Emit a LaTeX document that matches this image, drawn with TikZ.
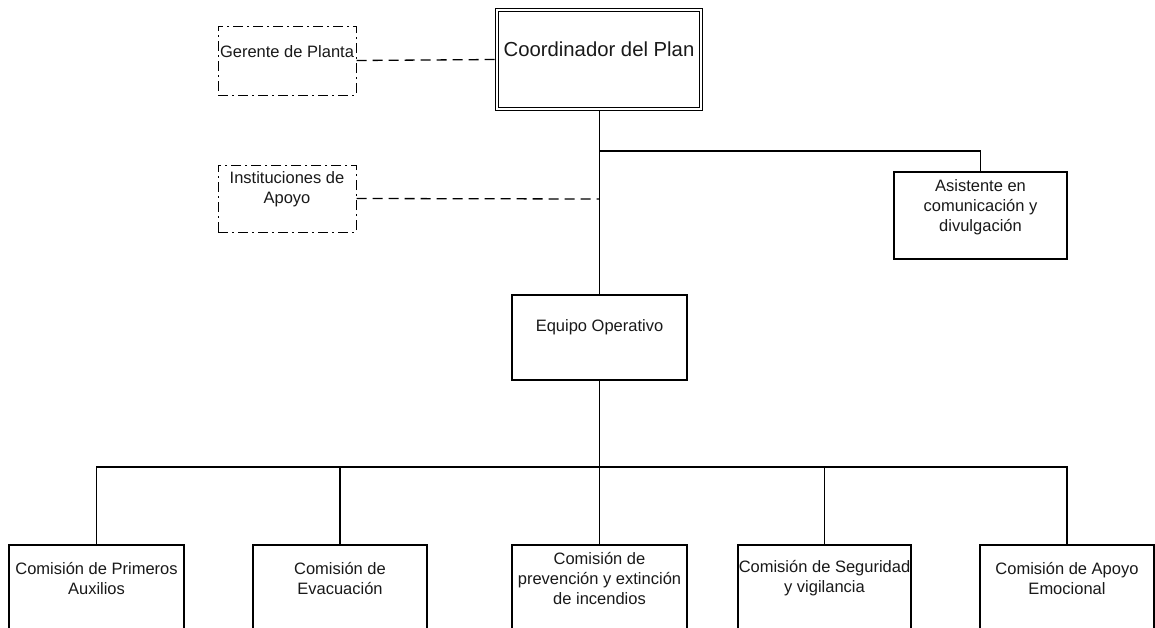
\documentclass[tikz,border=0pt]{standalone}
\usepackage{fontspec}
\setmainfont{Liberation Sans}
\begin{document}
\begin{tikzpicture}[x=1pt,y=-1pt,
  orgbox/.style={draw=black, line width=1.2pt, inner sep=0pt, fill=white},
  dashbox/.style={orgbox, line width=1pt, dash pattern=on 10pt off 4pt on 2pt off 4pt},
  txt/.style={inner sep=0pt, align=center, text=black!90, font=\fontsize{16.5}{20}\selectfont},
  bigtxt/.style={txt, font=\fontsize{20.3}{24}\selectfont},
  link/.style={line width=1.3pt},
  dashlink/.style={link, dash pattern=on 10pt off 6pt}]
\useasboundingbox (0,0) rectangle (1155,627);
\clip (0,0) rectangle (1155,627);

% junction points on the main stem
\coordinate (j1) at (599.5,151);
\coordinate (j2) at (599.5,199);
\coordinate (bus) at (599.5,467);

% connectors (drawn first so boxes sit on top)
\draw[link] (599.5,110) -- (599.5,295);
\draw[link] (j1) -| (980.5,172);
\draw[link] (599.5,380) -- (599.5,545);
\draw[link] (96.5,545) |- (bus) -| (1067,545);
\draw[link] (340,467) -- (340,545);
\draw[link] (824.5,467) -- (824.5,545);

% boxes
\node[orgbox, double, double distance=2.4pt, line width=1pt,
      minimum width=204pt, minimum height=99.5pt] (coord) at (599,59.5) {};
\node[dashbox, minimum width=138pt, minimum height=69pt] (gerente) at (287,60.5) {};
\node[dashbox, minimum width=138pt, minimum height=67pt] (inst) at (287,198.5) {};
\node[orgbox, minimum width=173pt, minimum height=87pt] (asist) at (980.5,215.5) {};
\node[orgbox, minimum width=175pt, minimum height=85pt] (equipo) at (599.5,337.5) {};
\node[orgbox, minimum width=175pt, minimum height=85pt] (c1) at (96.5,587.5) {};
\node[orgbox, minimum width=174pt, minimum height=85pt] (c2) at (340,587.5) {};
\node[orgbox, minimum width=175pt, minimum height=85pt] (c3) at (599.5,587.5) {};
\node[orgbox, minimum width=173pt, minimum height=85pt] (c4) at (824.5,587.5) {};
\node[orgbox, minimum width=174pt, minimum height=85pt] (c5) at (1067,587.5) {};

% dashed links to the advisory boxes
\draw[dashlink] (gerente.east) -- (coord.west);
\draw[dashlink] (inst.east) -- (j2);

% box texts
\node[bigtxt] (coord-t) at ([yshift=10.5pt]coord.center) {Coordinador del Plan};
\node[txt] (gerente-t) at ([yshift=8.5pt]gerente.center) {Gerente de Planta};
\node[txt] (inst-t) at ([yshift=9pt]inst.center) {Instituciones de\\Apoyo};
\node[txt] (asist-t) at ([yshift=8.5pt]asist.center) {Asistente en\\comunicación y\\divulgación};
\node[txt] (equipo-t) at ([yshift=10pt]equipo.center) {Equipo Operativo};
\node[txt] (c1-t) at ([yshift=9.5pt]c1.center) {Comisión de Primeros\\Auxilios};
\node[txt] (c2-t) at ([yshift=9.5pt]c2.center) {Comisión de\\Evacuación};
\node[txt] (c3-t) at ([yshift=9.5pt]c3.center) {Comisión de\\prevención y extinción\\de incendios};
\node[txt] (c4-t) at ([yshift=9.5pt]c4.center) {Comisión de Seguridad\\y vigilancia};
\node[txt] (c5-t) at ([yshift=9.5pt]c5.center) {Comisión de Apoyo\\Emocional};
\end{tikzpicture}
\end{document}
